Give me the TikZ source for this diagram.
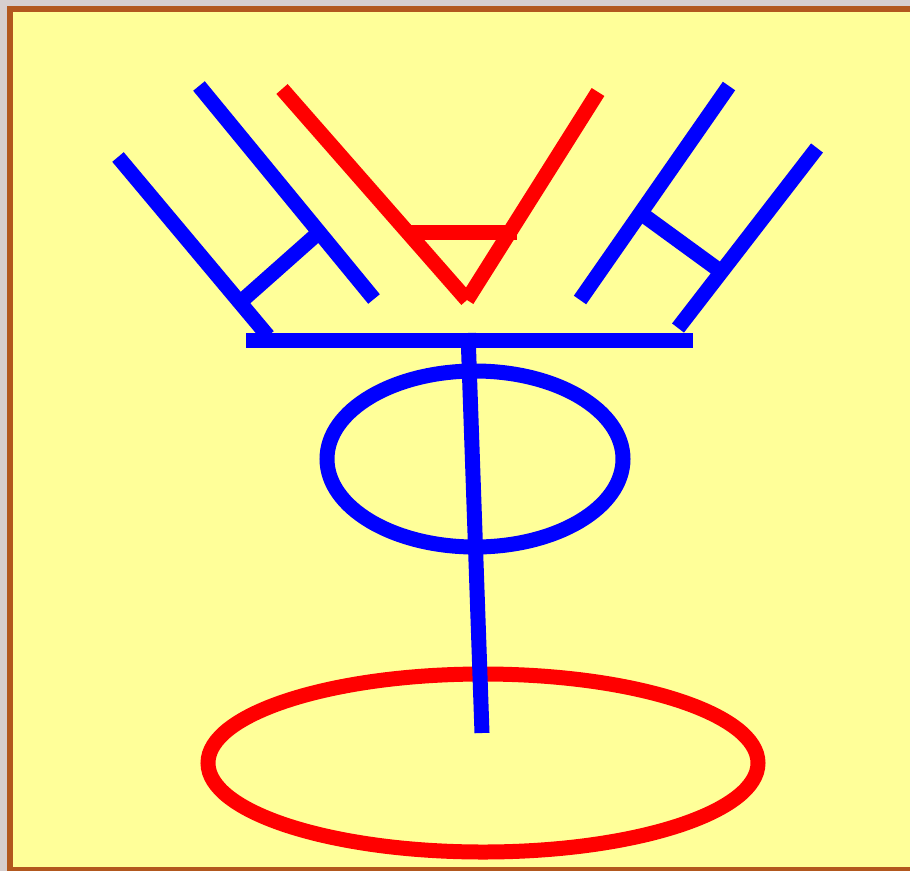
\documentclass[tikz,border=0pt]{standalone}
\usepackage{tikz}
\definecolor{PaperYellow}{RGB}{255,255,153}
\definecolor{FrameBrown}{RGB}{178,88,30}
\definecolor{MarbleGrey}{RGB}{214,206,206}
\definecolor{GlyphBlue}{RGB}{0,0,255}
\definecolor{GlyphRed}{RGB}{255,0,0}
\newcommand{\glyphstroke}[5]{%
  \draw[line width=15pt,#5] (#1,#2)--(#3,#4);}

\begin{document}
\begin{tikzpicture}[x=1pt,y=-1pt]
  \fill[MarbleGrey] (0,0) rectangle (910,871);
  \useasboundingbox (0,0) rectangle (910,871);
  \fill[FrameBrown] (7,6) rectangle (910,871);
  \fill[PaperYellow] (13,12) rectangle (910,867);
  % left H
  \glyphstroke{118}{157}{268}{336}{GlyphBlue}
  \glyphstroke{199}{86}{374}{299}{GlyphBlue}
  \glyphstroke{245}{298}{316}{235}{GlyphBlue}
  % right H
  \glyphstroke{729}{86}{580}{300}{GlyphBlue}
  \glyphstroke{817}{148}{678}{328}{GlyphBlue}
  \glyphstroke{646}{217}{716}{268}{GlyphBlue}
  % red V
  \glyphstroke{282}{89}{467}{300}{GlyphRed}
  \glyphstroke{598}{92}{467}{300}{GlyphRed}
  \glyphstroke{408}{232}{517}{232}{GlyphRed}
  % bar, ring and stem
  \glyphstroke{246}{340}{693}{340}{GlyphBlue}
  \draw[line width=15pt,GlyphBlue] (475,459) ellipse [x radius=148,y radius=88];
  \draw[line width=15pt,GlyphRed] (483,763) ellipse [x radius=275,y radius=89];
  \glyphstroke{468}{333}{482}{733}{GlyphBlue}
\end{tikzpicture}
\end{document}
